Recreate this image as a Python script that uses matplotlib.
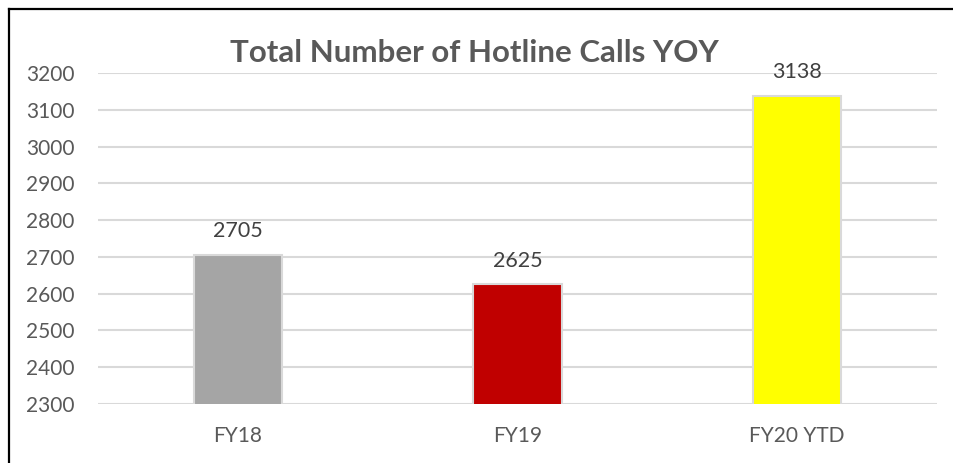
import matplotlib
matplotlib.use('Agg')
import matplotlib.pyplot as plt
from matplotlib.lines import Line2D

# Hotline call totals by fiscal year
categories = ['FY18', 'FY19', 'FY20 YTD']
calls = [2705, 2625, 3138]
bar_colors = ['#A5A5A5', '#C00000', '#FFFF00']

plt.rcParams['font.family'] = ['Lato', 'DejaVu Sans']

fig = plt.figure(figsize=(9.54, 4.63), dpi=100)
ax = fig.add_axes([0.1027, 0.1274, 0.8795, 0.7149])

x = range(len(categories))
ax.bar(x, calls, width=0.315, color=bar_colors, edgecolor='#D9D9D9',
       linewidth=1.5, zorder=3)

for xi, v in zip(x, calls):
    ax.annotate(str(v), xy=(xi, v), xytext=(0, 17), textcoords='offset points',
                ha='center', va='center', fontsize=15.5, color='#404040', zorder=4)

ax.set_xlim(-0.5, 2.5)
ax.set_ylim(2300, 3200)
ax.set_yticks(range(2300, 3201, 100))
ax.set_xticks(list(x))
ax.set_xticklabels(categories)
ax.grid(axis='y', color='#D9D9D9', linewidth=1.5, zorder=0)
for s in ax.spines.values():
    s.set_visible(False)
ax.tick_params(axis='both', length=0, labelsize=15, labelcolor='#595959')
ax.tick_params(axis='y', pad=17)
ax.tick_params(axis='x', pad=16)

fig.text(0.497, 0.885, 'Total Number of Hotline Calls YOY', ha='center', va='center',
         fontsize=22.5, fontweight='bold', color='#595959')

# black frame along the top and left edges
fig.add_artist(Line2D([9.5 / 954, 9.5 / 954], [0, 1 - 9 / 463], color='black',
                      linewidth=1.6, transform=fig.transFigure))
fig.add_artist(Line2D([9.5 / 954, 1], [1 - 9 / 463, 1 - 9 / 463], color='black',
                      linewidth=1.6, transform=fig.transFigure))

fig.savefig('out.png', dpi=100)
